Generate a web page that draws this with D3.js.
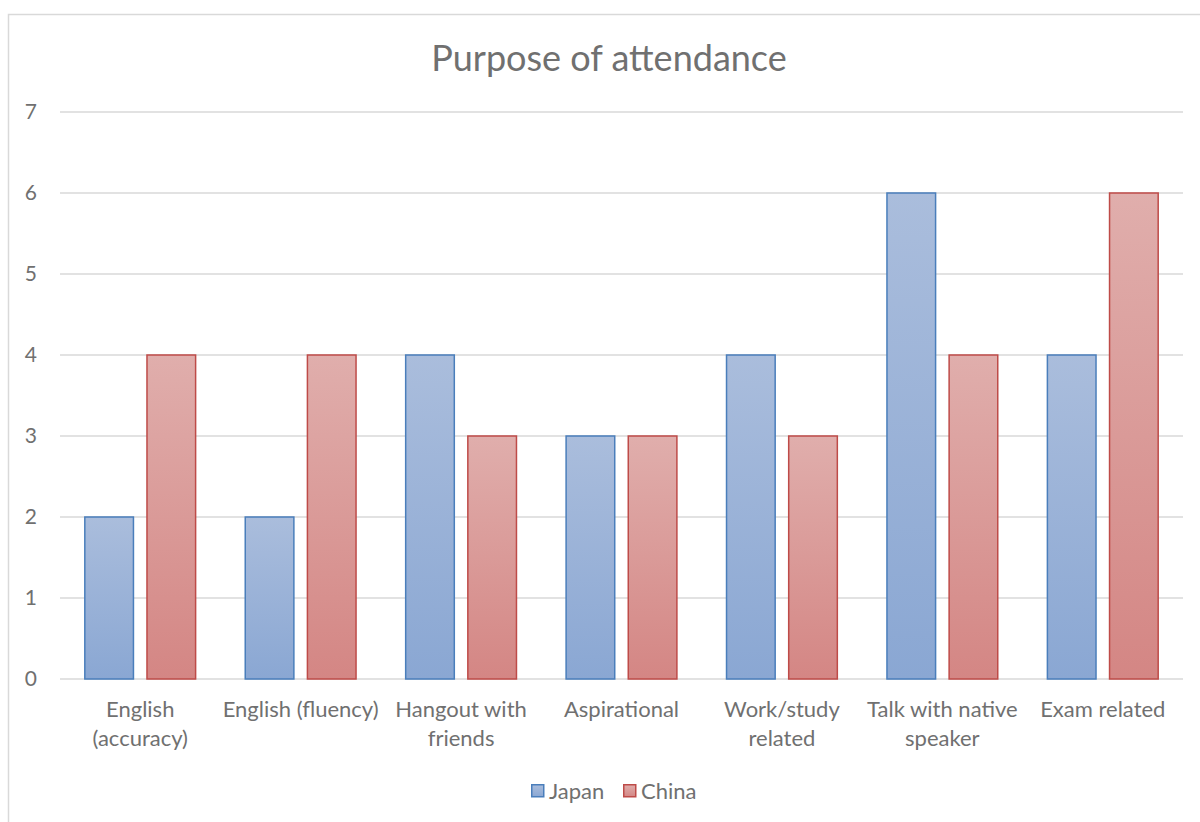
<!DOCTYPE html>
<html>
<head>
<meta charset="utf-8">
<script src="https://cdn.jsdelivr.net/npm/d3@7"></script>
<style>
  body { margin: 0; background: #fff; }
  svg { display: block; font-family: Lato, "Open Sans", sans-serif; }
</style>
</head>
<body>
<div id="main-vis"></div>
<script>
// chart values
const categories = ["English (accuracy)", "English (fluency)", "Hangout with friends",
  "Aspirational", "Work/study related", "Talk with native speaker", "Exam related"]
const tickLabels = [["English", "(accuracy)"], ["English (fluency)"], ["Hangout with", "friends"],
  ["Aspirational"], ["Work/study", "related"], ["Talk with native", "speaker"], ["Exam related"]]
const seriesNames = ["Japan", "China"]
const japan = [2, 2, 4, 3, 4, 6, 4]
const china = [4, 4, 3, 3, 3, 4, 6]
const yTicks = [0, 1, 2, 3, 4, 5, 6, 7]

window.onload = setup

function setup () {
  const width = 1200, height = 822
  const textColor = '#707070'
  const svg = d3.select('#main-vis').append('svg')
    .attr('width', width)
    .attr('height', height)

  // gradients like Excel's default fill
  const defs = svg.append('defs')
  const grads = [
    {id: 'gJapan', top: '#aabddc', bottom: '#8aa7d3'},
    {id: 'gChina', top: '#e0aeac', bottom: '#d48684'}
  ]
  grads.forEach(g => {
    const lg = defs.append('linearGradient').attr('id', g.id)
      .attr('x1', 0).attr('y1', 0).attr('x2', 0).attr('y2', 1)
    lg.append('stop').attr('offset', '0%').attr('stop-color', g.top)
    lg.append('stop').attr('offset', '100%').attr('stop-color', g.bottom)
  })
  const fills = {Japan: 'url(#gJapan)', China: 'url(#gChina)'}
  const strokes = {Japan: '#4a7ebb', China: '#be4b48'}

  // chart border
  svg.append('rect')
    .attr('x', 8.5).attr('y', 14.5)
    .attr('width', 1300).attr('height', 900)
    .attr('fill', 'none').attr('stroke', '#d9d9d9').attr('stroke-width', 1.5)

  const x = d3.scaleBand().domain(categories).range([60, 1183])
    .paddingInner(0.3).paddingOuter(0.15)
  const xs = d3.scaleBand().domain(seriesNames).range([0, x.bandwidth()])
    .paddingInner(0.1935)
  const y = d3.scaleLinear().domain([0, 7]).range([679, 112])

  // gridlines
  svg.append('g').selectAll('line')
    .data(yTicks)
    .join('line')
      .attr('x1', 60).attr('x2', 1183)
      .attr('y1', d => y(d)).attr('y2', d => y(d))
      .attr('stroke', '#d9d9d9').attr('stroke-width', 1.5)

  // y tick labels
  svg.append('g').selectAll('text')
    .data(yTicks)
    .join('text')
      .attr('x', 37).attr('y', d => y(d))
      .attr('dy', '0.35em')
      .attr('text-anchor', 'end')
      .attr('font-size', 21)
      .attr('fill', textColor)
      .text(d => d)

  const rows = categories.map((c, i) => ({c, Japan: japan[i], China: china[i]}))

  const groups = svg.append('g').selectAll('g')
    .data(rows)
    .join('g')
      .attr('transform', d => `translate(${x(d.c)},0)`)

  groups.selectAll('rect')
    .data(d => seriesNames.map(s => ({s, v: d[s]})))
    .join('rect')
      .attr('x', d => xs(d.s) + 0.75)
      .attr('y', d => y(d.v))
      .attr('width', xs.bandwidth() - 1.5)
      .attr('height', d => y(0) - y(d.v))
      .attr('fill', d => fills[d.s])
      .attr('stroke', d => strokes[d.s])
      .attr('stroke-width', 1.5)

  // x labels
  const xl = svg.append('g').selectAll('text')
    .data(categories)
    .join('text')
      .attr('x', d => x(d) + x.bandwidth() / 2)
      .attr('y', 717)
      .attr('text-anchor', 'middle')
      .attr('font-size', 22)
      .attr('fill', textColor)
  xl.selectAll('tspan')
    .data((d, i) => tickLabels[i])
    .join('tspan')
      .attr('x', function () { return this.parentNode.getAttribute('x') })
      .attr('dy', (d, i) => i === 0 ? 0 : 29)
      .text(d => d)

  // title
  svg.append('text')
    .attr('x', 609).attr('y', 71)
    .attr('text-anchor', 'middle')
    .attr('font-size', 36)
    .attr('fill', textColor)
    .text('Purpose of attendance')

  // legend
  const legendX = [531, 623]
  const lg = svg.append('g').selectAll('g')
    .data(seriesNames)
    .join('g')
      .attr('transform', (d, i) => `translate(${legendX[i]},784)`)
  lg.append('rect')
    .attr('x', 0.75).attr('y', 0.75)
    .attr('width', 12).attr('height', 12)
    .attr('fill', d => fills[d])
    .attr('stroke', d => strokes[d])
    .attr('stroke-width', 1.5)
  lg.append('text')
    .attr('x', 18).attr('y', 7)
    .attr('dy', '0.35em')
    .attr('font-size', 22)
    .attr('fill', textColor)
    .text(d => d)
}
</script>
</body>
</html>
